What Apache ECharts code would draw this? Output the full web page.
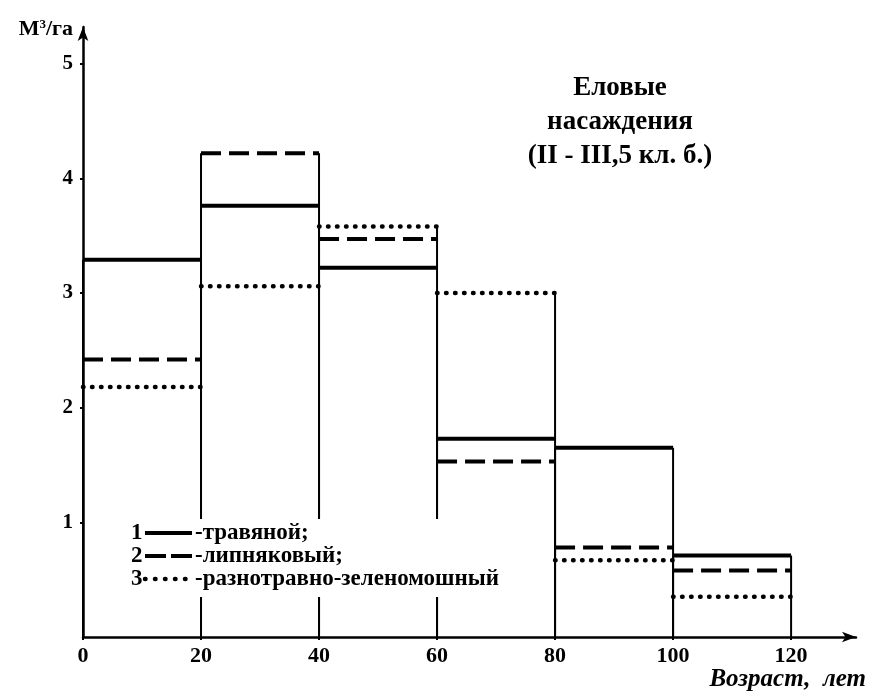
<!DOCTYPE html>
<html>
<head>
<meta charset="utf-8">
<script src="https://cdn.jsdelivr.net/npm/echarts@6/dist/echarts.min.js"></script>
<style>html,body{margin:0;padding:0;background:#fff;}#chart{width:870px;height:697px;}</style>
</head>
<body>
<div id="chart"></div>
<script>
// ---- data ----
const ageEdges = [0, 20, 40, 60, 80, 100, 120];
const seriesNames = ['травяной', 'липняковый', 'разнотравно-зеленомошный'];
const legendNumbers = ['1', '2', '3'];
const legendLabels = ['-травяной;', '-липняковый;', '-разнотравно-зеленомошный'];
const grassy = [3.29, 3.76, 3.22, 1.73, 1.65, 0.71];
const linden = [2.42, 4.22, 3.47, 1.53, 0.78, 0.58];
const mixed  = [2.18, 3.06, 3.58, 3.00, 0.67, 0.35];
const titleText = 'Еловые\nнасаждения\n(II - III,5 кл. б.)';
const xName = 'Возраст,  лет';

// ---- styles ----
const FONT = "'Liberation Serif', 'Times New Roman', serif";
const lineStyles = [
  { lineWidth: 4, lineCap: 'butt' },
  { lineWidth: 4, lineDash: [20, 8], lineCap: 'butt' },
  { lineWidth: 4.5, lineDash: [0.5, 8.5], lineCap: 'round' }
];
const allValues = [grassy, linden, mixed];

function binData(values) {
  return ageEdges.slice(0, -1).map((x0, i) => [x0, ageEdges[i + 1], values[i]]);
}
const outlineData = ageEdges.slice(0, -1).map((x0, i) =>
  [x0, ageEdges[i + 1], Math.max(grassy[i], linden[i], mixed[i])]);

const chart = echarts.init(document.getElementById('chart'), null, { renderer: 'canvas' });

const levelSeries = allValues.map((vals, k) => ({
  name: seriesNames[k],
  type: 'custom',
  data: binData(vals),
  encode: { x: [0, 1], y: 2 },
  z: 5,
  renderItem: function (params, api) {
    const p0 = api.coord([api.value(0), api.value(2)]);
    const p1 = api.coord([api.value(1), api.value(2)]);
    return {
      type: 'line',
      shape: { x1: p0[0], y1: p0[1], x2: p1[0], y2: p1[1] },
      style: Object.assign({ stroke: '#000', fill: null }, lineStyles[k])
    };
  }
}));

const outlineSeries = {
  name: 'bins',
  type: 'custom',
  data: outlineData,
  encode: { x: [0, 1], y: 2 },
  z: 3,
  renderItem: function (params, api) {
    const a0 = api.coord([api.value(0), 0]);
    const a1 = api.coord([api.value(0), api.value(2)]);
    const b0 = api.coord([api.value(1), 0]);
    const b1 = api.coord([api.value(1), api.value(2)]);
    return {
      type: 'group',
      children: [
        { type: 'line', shape: { x1: a0[0], y1: a0[1], x2: a1[0], y2: a1[1] }, style: { stroke: '#000', lineWidth: 2 } },
        { type: 'line', shape: { x1: b0[0], y1: b0[1], x2: b1[0], y2: b1[1] }, style: { stroke: '#000', lineWidth: 2 } }
      ]
    };
  }
};

// legend built from arrays
const legendX = 131, legendY0 = 533, legendDy = 23;
const legendChildren = [
  { type: 'rect', shape: { x: 125, y: 519, width: 380, height: 78 }, style: { fill: '#fff' }, z: 50 }
];
legendNumbers.forEach((num, k) => {
  const y = legendY0 + k * legendDy;
  legendChildren.push({
    type: 'text', x: legendX, y: y, z: 51,
    style: { text: num, font: 'bold 23px ' + FONT, fill: '#000', textVerticalAlign: 'middle', textAlign: 'left' }
  });
  legendChildren.push({
    type: 'line', z: 51,
    shape: { x1: 145, y1: y, x2: 192, y2: y },
    style: Object.assign({ stroke: '#000' }, lineStyles[k], k === 1 ? { lineDash: [21, 5] } : {}, k === 2 ? { lineDash: [0.5, 9.5] } : {})
  });
  legendChildren.push({
    type: 'text', x: 195, y: y, z: 51,
    style: { text: legendLabels[k], font: 'bold 23px ' + FONT, fill: '#000', textVerticalAlign: 'middle', textAlign: 'left' }
  });
});

const option = {
  animation: false,
  backgroundColor: '#fff',
  grid: { left: 83, right: 14, top: 27, bottom: 60 },
  xAxis: {
    type: 'value',
    min: 0, max: 131, interval: 20,
    name: xName,
    nameLocation: 'end',
    nameGap: 10,
    nameTextStyle: {
      fontFamily: FONT, fontSize: 25, fontWeight: 'bold', fontStyle: 'italic', color: '#000',
      align: 'right', verticalAlign: 'top', padding: [30, 0, 0, 0]
    },
    axisLine: { show: true, symbol: ['none', 'arrow'], symbolSize: [8, 14], lineStyle: { color: '#000', width: 2.5 } },
    axisTick: { show: true, length: 3, lineStyle: { color: '#000', width: 2 } },
    axisLabel: { showMaxLabel: false, margin: 8, fontFamily: FONT, fontSize: 22, fontWeight: 'bold', color: '#000' },
    splitLine: { show: false }
  },
  yAxis: {
    type: 'value',
    min: 0, max: 5.32, interval: 1,
    name: '{a|М}{s|3}{a|/га}',
    nameLocation: 'end',
    nameGap: -2,
    nameTextStyle: {
      align: 'right', verticalAlign: 'middle', padding: [0, 10, 0, 0],
      rich: {
        a: { fontFamily: FONT, fontSize: 22, fontWeight: 'bold', color: '#000' },
        s: { fontFamily: FONT, fontSize: 13, fontWeight: 'bold', color: '#000', verticalAlign: 'top', padding: [0, 0, 9, 0] }
      }
    },
    axisLine: { show: true, symbol: ['none', 'arrow'], symbolSize: [8, 14], lineStyle: { color: '#000', width: 2.5 } },
    axisTick: { show: true, length: 3, lineStyle: { color: '#000', width: 2 } },
    axisLabel: { showMaxLabel: false, showMinLabel: false, margin: 10, fontFamily: FONT, fontSize: 21, fontWeight: 'bold', color: '#000' },
    splitLine: { show: false }
  },
  graphic: [
    {
      type: 'text', x: 620, y: 71, z: 20,
      style: { text: titleText, font: 'bold 27px ' + FONT, fill: '#000', textAlign: 'center', lineHeight: 34 }
    },
    { type: 'group', children: legendChildren, z: 50 }
  ],
  series: [outlineSeries].concat(levelSeries)
};
chart.setOption(option);
</script>
</body>
</html>
